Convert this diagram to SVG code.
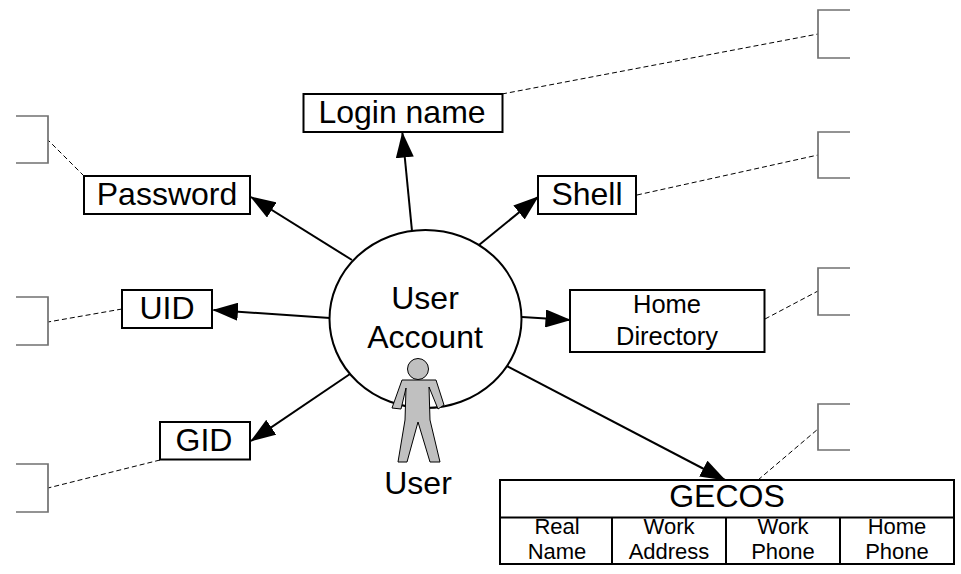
<svg xmlns="http://www.w3.org/2000/svg" width="961" height="574" viewBox="0 0 961 574">
<style>
text{font-family:"Liberation Sans",Arial,sans-serif;fill:#000;text-anchor:middle}
.b{fill:#fff;stroke:#000;stroke-width:2}
.t{font-size:32px}
.m{font-size:25.500px}
.s{font-size:22px}
.c{fill:none;stroke:#000;stroke-width:2}
.d{fill:none;stroke:#000;stroke-width:1;stroke-dasharray:5 3}
.k{fill:none;stroke:#707070;stroke-width:1.700}
</style>
<defs>
<marker id="a" markerUnits="userSpaceOnUse" markerWidth="26" markerHeight="18" refX="24.500" refY="9" orient="auto" viewBox="0 0 26 18"><path d="M0 0L25.500 9L0 18z" fill="#000"/></marker>
</defs>
<g id="connectors">
<path class="c" d="M412 231L402.400 133" marker-end="url(#a)"/>
<path class="c" d="M352 260L251 197" marker-end="url(#a)"/>
<path class="c" d="M479 245L538 197" marker-end="url(#a)"/>
<path class="c" d="M330 318L213.500 310" marker-end="url(#a)"/>
<path class="c" d="M522 317L570 320" marker-end="url(#a)"/>
<path class="c" d="M350 374L251 441" marker-end="url(#a)"/>
<path class="c" d="M507 366L725 480" marker-end="url(#a)"/>
<path class="d" d="M502 94L818 34"/>
<path class="d" d="M637 195L818 155"/>
<path class="d" d="M765 319L818 291"/>
<path class="d" d="M758 480L818 429"/>
<path class="d" d="M84 176L48 140"/>
<path class="d" d="M122 309L48 322"/>
<path class="d" d="M160 460L48 488"/>
</g>
<g id="bracket-login"><path class="k" d="M850 10H818V58H850"/></g>
<g id="bracket-shell"><path class="k" d="M850 132H818V178H850"/></g>
<g id="bracket-home"><path class="k" d="M850 268H818V315H850"/></g>
<g id="bracket-gecos"><path class="k" d="M850 404H818V450H850"/></g>
<g id="bracket-password"><path class="k" d="M16 116H48V163H16"/></g>
<g id="bracket-uid"><path class="k" d="M16 297H48V345H16"/></g>
<g id="bracket-gid"><path class="k" d="M16 464H48V512H16"/></g>
<g id="user-account"><ellipse class="b" cx="425.500" cy="319" rx="96" ry="89"/><text class="t" x="425" y="309">User</text><text class="t" x="425" y="348">Account</text></g>
<g id="user"><circle cx="418" cy="369" r="10.500" fill="#c0c0c0" stroke="#000"/><path d="M402 380H436L444 405L438 409L429 387L430 420L440 462H430L418 422L407 462H398L405 420L406 388L401 409L392 408z" fill="#c0c0c0" stroke="#000"/><text class="t" x="418" y="494">User</text></g>
<g id="login-name"><rect class="b" x="303.500" y="94" width="199" height="38"/><text class="t" x="402" y="123">Login name</text></g>
<g id="password"><rect class="b" x="84" y="176" width="166" height="38"/><text class="t" x="167" y="205">Password</text></g>
<g id="shell"><rect class="b" x="538" y="176" width="98" height="38"/><text class="t" x="587" y="205">Shell</text></g>
<g id="uid"><rect class="b" x="122" y="290" width="90" height="38"/><text class="t" x="167" y="319">UID</text></g>
<g id="home-directory"><rect class="b" x="570" y="290" width="194.500" height="62"/><text class="m" x="667" y="313">Home</text><text class="m" x="667" y="345">Directory</text></g>
<g id="gid"><rect class="b" x="160" y="422" width="90" height="37.500"/><text class="t" x="204" y="451">GID</text></g>
<g id="gecos"><rect class="b" x="500" y="480" width="454" height="84"/><path class="c" d="M500 517.500H954M612 517.500V564M726 517.500V564M840 517.500V564"/><text class="t" x="727" y="507">GECOS</text>
<text class="s" x="557" y="534">Real</text><text class="s" x="557" y="559">Name</text>
<text class="s" x="669" y="534">Work</text><text class="s" x="669" y="559">Address</text>
<text class="s" x="783" y="534">Work</text><text class="s" x="783" y="559">Phone</text>
<text class="s" x="897" y="534">Home</text><text class="s" x="897" y="559">Phone</text></g>
</svg>
